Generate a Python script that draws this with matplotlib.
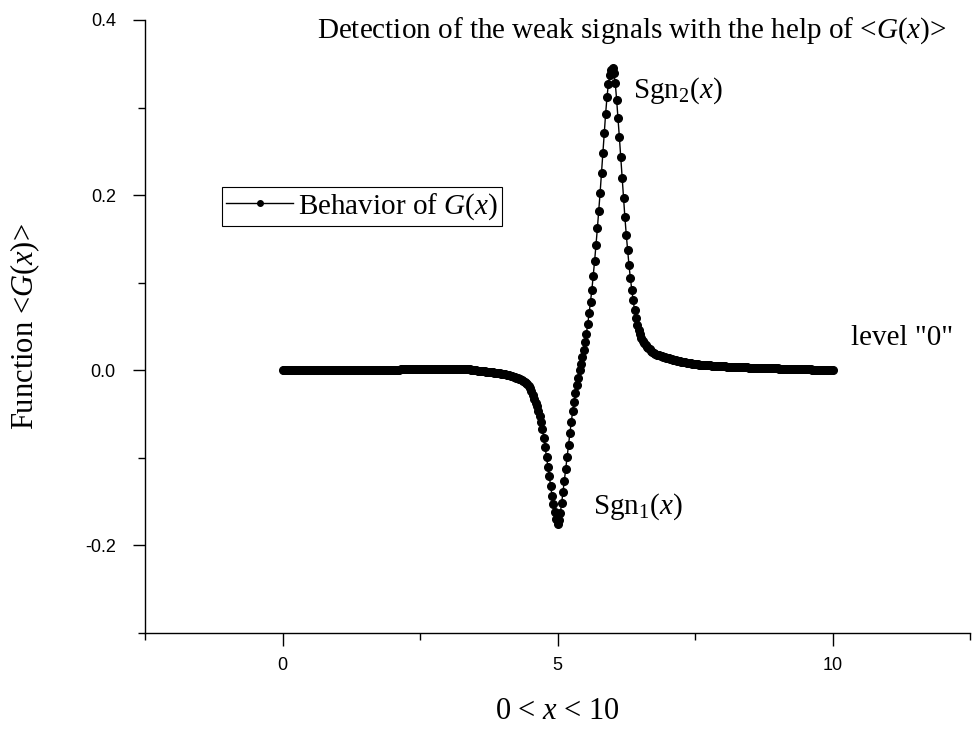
import numpy as np
import matplotlib
matplotlib.use("Agg")
import matplotlib.pyplot as plt

plt.rcParams['font.family'] = ['Liberation Serif', 'DejaVu Serif']
plt.rcParams['mathtext.fontset'] = 'custom'
plt.rcParams['mathtext.rm'] = 'Liberation Serif'
plt.rcParams['mathtext.it'] = 'Liberation Serif:italic'
plt.rcParams['mathtext.bf'] = 'Liberation Serif:bold'

# <G(x)>, x from 0 to 10 in steps of 0.025
g_flat_left = [
    0.0002, 0.0002, 0.0002, 0.0002, 0.0002, 0.0002, 0.0002, 0.0002, 0.0002, 0.0002,
    0.0002, 0.0002, 0.0002, 0.0002, 0.0002, 0.0002, 0.0002, 0.0002, 0.0002, 0.0002,
    0.0002, 0.0002, 0.0002, 0.0002, 0.0002, 0.0002, 0.0002, 0.0002, 0.0002, 0.0002,
    0.0002, 0.0002, 0.0002, 0.0002, 0.0002, 0.0002, 0.0002, 0.0002, 0.0002, 0.0002,
    0.0003, 0.0003, 0.0003, 0.0003, 0.0003, 0.0003, 0.0003, 0.0003, 0.0003, 0.0003,
    0.0004, 0.0004, 0.0004, 0.0004, 0.0004, 0.0004, 0.0004, 0.0004, 0.0004, 0.0004,
    0.0004, 0.0004, 0.0004, 0.0004, 0.0004, 0.0004, 0.0004, 0.0004, 0.0004, 0.0004,
    0.0005, 0.0005, 0.0005, 0.0005, 0.0005, 0.0005, 0.0005, 0.0005, 0.0005, 0.0005,
    0.0006, 0.0006, 0.0007, 0.0007, 0.0008, 0.0008, 0.0009, 0.0009, 0.0010, 0.0010,
    0.0011, 0.0011, 0.0012, 0.0012, 0.0013, 0.0013, 0.0014, 0.0014, 0.0015, 0.0015,
    0.0015, 0.0015, 0.0015, 0.0015, 0.0015, 0.0015, 0.0015, 0.0015, 0.0015, 0.0015,
    0.0015, 0.0015, 0.0015, 0.0015, 0.0015, 0.0015, 0.0015, 0.0015, 0.0015, 0.0015,
    0.0015, 0.0015, 0.0015, 0.0015, 0.0015, 0.0015, 0.0015, 0.0015, 0.0014, 0.0014,
    0.0014, 0.0014, 0.0013, 0.0012, 0.0011, 0.0010, 0.0009, 0.0007, 0.0005, 0.0003,
    0.0001, -0.0001, -0.0003, -0.0005, -0.0007, -0.0009, -0.0011, -0.0013, -0.0015, -0.0017,
    -0.0019, -0.0021, -0.0023, -0.0025, -0.0027, -0.0029, -0.0031, -0.0033, -0.0035, -0.0038,
]
g_dip = [
    -0.0040, -0.0043, -0.0046, -0.0050, -0.0054, -0.0058, -0.0063, -0.0068, -0.0074, -0.0080,
    -0.0085, -0.0090, -0.0095, -0.0100, -0.0108, -0.0118, -0.0130, -0.0145, -0.0162, -0.0182,
    -0.0205, -0.0240, -0.0285, -0.0330, -0.0370, -0.0410, -0.0460, -0.0520, -0.0590, -0.0670,
    -0.0770, -0.0880, -0.0990, -0.1100, -0.1210, -0.1320, -0.1430, -0.1530, -0.1620, -0.1700,
]
g_rise = [
    -0.175, -0.171, -0.163, -0.152, -0.139, -0.126, -0.113, -0.099, -0.085, -0.072,
    -0.059, -0.047, -0.036, -0.026, -0.017, -0.009, 0.000, 0.007, 0.015, 0.023,
    0.032, 0.042, 0.053, 0.065, 0.078, 0.092, 0.108, 0.125, 0.143, 0.162,
    0.182, 0.203, 0.225, 0.248, 0.271, 0.293, 0.312, 0.327, 0.337, 0.343,
]
g_fall = [
    0.345, 0.340, 0.328, 0.309, 0.288, 0.266, 0.243, 0.220, 0.197, 0.175,
    0.155, 0.137, 0.120, 0.105, 0.092, 0.080, 0.069, 0.060, 0.052, 0.046,
    0.041, 0.037, 0.034, 0.031, 0.029, 0.027, 0.025, 0.024, 0.022, 0.021,
    0.020, 0.019, 0.018, 0.0175, 0.017, 0.0165,
]
g_tail = [
    0.0160, 0.0155, 0.0150, 0.0145, 0.0140, 0.0135, 0.0130, 0.0126, 0.0122, 0.0118,
    0.0114, 0.0110, 0.0106, 0.0102, 0.0099, 0.0096, 0.0093, 0.0090, 0.0087, 0.0084,
    0.0081, 0.0078, 0.0076, 0.0074, 0.0072, 0.0070, 0.0068, 0.0066, 0.0064, 0.0062,
    0.0060, 0.0059, 0.0058, 0.0057, 0.0056, 0.0055, 0.0054, 0.0053, 0.0052, 0.0051,
    0.0050, 0.0049, 0.0048, 0.0047, 0.0046, 0.0045, 0.0044, 0.0043, 0.0042, 0.0041,
    0.0040, 0.0039, 0.0038, 0.0037, 0.0037, 0.0036, 0.0035, 0.0035, 0.0034, 0.0033,
    0.0033, 0.0032, 0.0032, 0.0031, 0.0031, 0.0030, 0.0030, 0.0029, 0.0029, 0.0028,
    0.0028, 0.0027, 0.0027, 0.0026, 0.0026, 0.0025, 0.0025, 0.0024, 0.0024, 0.0023,
    0.0023, 0.0022, 0.0022, 0.0021, 0.0021, 0.0020, 0.0020, 0.0019, 0.0019, 0.0018,
    0.0018, 0.0017, 0.0017, 0.0016, 0.0016, 0.0015, 0.0015, 0.0014, 0.0014, 0.0013,
    0.0013, 0.0012, 0.0012, 0.0011, 0.0011, 0.0010, 0.0010, 0.0009, 0.0009, 0.0008,
    0.0008, 0.0008, 0.0007, 0.0007, 0.0007, 0.0006, 0.0006, 0.0006, 0.0005, 0.0005,
    0.0005, 0.0005, 0.0005, 0.0005, 0.0005,
]

g_values = np.array(g_flat_left + g_dip + g_rise + g_fall + g_tail)
x_values = np.linspace(0, 10, len(g_values))

x_major = [0, 5, 10]
x_minor = [-2.5, 2.5, 7.5, 12.5]
y_major = [-0.2, 0.0, 0.2, 0.4]
y_major_labels = ['-0.2', '0.0', '0.2', '0.4']
y_minor = [-0.3, -0.1, 0.1, 0.3]

fig = plt.figure(figsize=(9.73, 7.31), dpi=100)
ax = fig.add_axes([145 / 973, 98 / 731, 825 / 973, 613 / 731])

ax.plot(x_values, g_values, '-o', color='black', linewidth=1, markersize=5.5,
        label=r'Behavior of $G$($x$)')

ax.set_xlim(-2.5, 12.5)
ax.set_ylim(-0.3, 0.4)
ax.spines['top'].set_visible(False)
ax.spines['right'].set_visible(False)
for side in ['left', 'bottom']:
    ax.spines[side].set_linewidth(1.0)

ax.set_xticks(x_major)
ax.set_xticks(x_minor, minor=True)
ax.set_yticks(y_major)
ax.set_yticklabels(y_major_labels)
ax.set_yticks(y_minor, minor=True)
ax.tick_params(which='major', direction='out', length=9, width=1.0,
               labelsize=13, labelfontfamily='Liberation Sans')
ax.tick_params(which='minor', direction='out', length=5, width=1.0)
ax.tick_params(axis='x', which='major', pad=8)
ax.tick_params(axis='y', which='major', pad=12)

ax.set_xlabel(r'0 < $x$ < 10', fontsize=22)
ax.xaxis.set_label_coords(0.5, -0.104)
ax.set_ylabel(r'Function <$G$($x$)>', fontsize=22)
ax.yaxis.set_label_coords(-0.125, 0.5)

ax.text(0.62, 0.3795, r'Detection of the weak signals with the help of <$G$($x$)>',
        fontsize=21, ha='left', va='baseline')
ax.text(6.375, 0.311, r'Sgn$_2$($x$)', fontsize=21, ha='left', va='baseline')
ax.text(5.65, -0.164, r'Sgn$_1$($x$)', fontsize=21, ha='left', va='baseline')
ax.text(10.33, 0.0285, 'level "0"', fontsize=21, ha='left', va='baseline')

leg = ax.legend(loc='upper left', bbox_to_anchor=(0.0933, 0.7276), borderaxespad=0,
                fontsize=21, numpoints=1, handlelength=2.3, handletextpad=0.15,
                borderpad=0.15, fancybox=False, framealpha=1, edgecolor='black')
leg.get_frame().set_linewidth(0.8)
leg.legend_handles[0].set_markersize(4)

fig.savefig('out.png', dpi=100)
